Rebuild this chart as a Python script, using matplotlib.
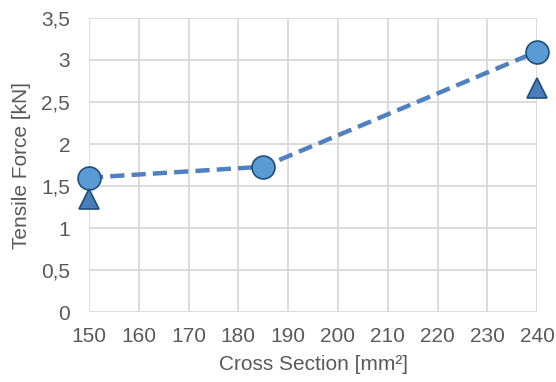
import matplotlib
matplotlib.use("Agg")
from matplotlib import pyplot as plt
from matplotlib.ticker import FuncFormatter, MultipleLocator

plt.rcParams['font.family'] = ['Liberation Sans', 'DejaVu Sans']

# measured tensile force per conductor cross section
cross_section = [150, 185, 240]
force_mean = [1.6, 1.73, 3.1]
cross_section_min = [150, 240]
force_min = [1.35, 2.67]

fig = plt.figure(figsize=(5.56, 3.82), dpi=100)
ax = fig.add_axes([0.160, 0.183, 0.806, 0.770])

ax.plot(cross_section, force_mean, ls=(0, (3.2, 1.6)), lw=3.2, color='#4F81C1',
        zorder=3, dash_capstyle='butt')
ax.plot(cross_section, force_mean, ls='none', marker='o', ms=16.5,
        mfc='#5B9BD5', mec='#1F4E79', mew=1.2, zorder=4, clip_on=False)
ax.plot(cross_section_min, force_min, ls='none', marker='^', ms=14.5,
        mfc='#4A7EBB', mec='#1F4E79', mew=1.2, zorder=4, clip_on=False)

ax.set_xlim(150, 240)
ax.set_ylim(0, 3.5)
ax.xaxis.set_major_locator(MultipleLocator(10))
ax.yaxis.set_major_locator(MultipleLocator(0.5))
ax.yaxis.set_major_formatter(FuncFormatter(lambda v, p: ('%g' % v).replace('.', ',')))

ax.grid(True, color='#D9D9D9', lw=1.3)
ax.set_axisbelow(True)
for s in ax.spines.values():
    s.set_visible(False)
ax.tick_params(length=0, labelsize=15, colors='#595959')
ax.tick_params(axis='x', pad=11)
ax.tick_params(axis='y', pad=13.5)

ax.set_xlabel('Cross Section [mm²]', fontsize=15, color='#595959', labelpad=6)
ax.set_ylabel('Tensile Force [kN]', fontsize=15, color='#595959', labelpad=7)

fig.savefig('out.png', dpi=100)
